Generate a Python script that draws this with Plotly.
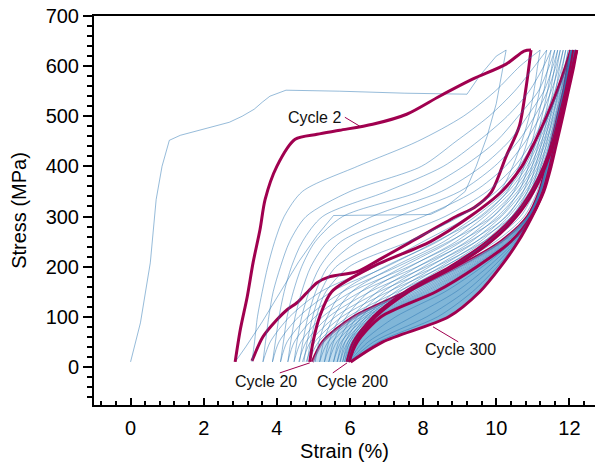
import plotly.graph_objects as go

levels = [10, 50, 100, 150, 200, 250, 300, 350, 400, 450, 500, 550, 600, 632]

# cycle 1 (first, odd-shaped loop)
c1_load_x = [0, 0.27, 0.54, 0.70, 0.86, 1.06, 1.36, 2.0, 2.7, 3.05, 3.38, 3.6, 3.81, 4.25, 5.72, 7.5, 9.2, 9.54, 10.0, 10.27]
c1_load_y = [10, 88, 208, 334, 400, 452, 462, 475, 488, 500, 514, 528, 540, 552, 550, 546, 544, 580, 620, 632]
c1_unload_x = [10.27, 10.16, 10.0, 9.75, 9.45, 9.15, 8.6, 8.2, 5.55, 5.1, 4.6, 4.1, 3.6, 3.15, 2.86]
c1_unload_y = [632, 590, 525, 460, 400, 350, 318, 304, 302, 262, 210, 150, 90, 40, 10]

# cycle 2 (highlighted)
c2_load_x = [2.86, 3.0, 3.19, 3.35, 3.54, 3.68, 4.0, 4.5, 5.1, 5.72, 6.62, 7.55, 8.45, 9.35, 10.27, 10.76, 10.95]
c2_load_y = [10, 74, 140, 208, 274, 334, 400, 454, 464, 472, 484, 504, 540, 574, 604, 630, 632]
c2_unload_x = [10.95, 10.82, 10.63, 10.27, 9.86, 9.4, 8.9, 7.63, 6.8, 6.19, 5.45, 5.1, 4.82, 4.55, 4.28, 4.0, 3.62, 3.32]
c2_unload_y = [632, 560, 480, 420, 348, 318, 300, 248, 214, 190, 180, 168, 148, 128, 114, 94, 60, 12]

# cycles 3-19 (thin), strain at each stress level
early_cycles = [3, 4, 5, 6, 7, 8, 10, 13, 16]
early_load = [
    [3.32, 3.39, 3.47, 3.60, 3.75, 3.94, 4.20, 4.70, 6.20, 7.85, 9.10, 9.97, 10.65, 11.20],
    [3.62, 3.69, 3.78, 3.90, 4.10, 4.35, 4.80, 6.00, 7.95, 8.90, 9.80, 10.50, 11.05, 11.38],
    [3.88, 3.96, 4.06, 4.20, 4.40, 4.70, 5.25, 7.00, 8.55, 9.50, 10.30, 10.90, 11.30, 11.50],
    [4.10, 4.18, 4.28, 4.45, 4.68, 5.05, 5.80, 7.90, 9.10, 10.00, 10.60, 11.15, 11.45, 11.60],
    [4.30, 4.38, 4.50, 4.68, 4.93, 5.40, 6.60, 8.50, 9.60, 10.35, 10.85, 11.30, 11.55, 11.68],
    [4.47, 4.55, 4.68, 4.88, 5.18, 5.75, 7.30, 9.00, 9.95, 10.60, 11.05, 11.40, 11.63, 11.75],
    [4.62, 4.71, 4.85, 5.06, 5.40, 6.20, 8.00, 9.40, 10.25, 10.80, 11.20, 11.50, 11.72, 11.83],
    [4.74, 4.83, 4.98, 5.20, 5.62, 6.90, 8.60, 9.75, 10.50, 10.98, 11.32, 11.60, 11.80, 11.90],
    [4.83, 4.92, 5.08, 5.34, 5.98, 7.60, 9.00, 10.00, 10.62, 11.05, 11.42, 11.68, 11.87, 11.97],
]
early_unload = [
    [3.62, 3.82, 4.35, 5.20, 6.70, 8.00, 9.25, 10.10, 10.45, 10.70, 10.90, 11.03, 11.13, 11.20],
    [3.88, 4.06, 4.60, 5.50, 7.00, 8.35, 9.60, 10.30, 10.62, 10.85, 11.04, 11.18, 11.30, 11.38],
    [4.10, 4.28, 4.85, 5.80, 7.30, 8.70, 9.90, 10.48, 10.76, 10.98, 11.15, 11.30, 11.42, 11.50],
    [4.30, 4.48, 5.05, 6.05, 7.60, 9.00, 10.10, 10.62, 10.88, 11.08, 11.25, 11.40, 11.52, 11.60],
    [4.47, 4.66, 5.25, 6.30, 7.85, 9.25, 10.28, 10.74, 10.98, 11.17, 11.33, 11.48, 11.60, 11.68],
    [4.60, 4.80, 5.42, 6.55, 8.10, 9.45, 10.42, 10.85, 11.07, 11.25, 11.41, 11.55, 11.67, 11.75],
    [4.70, 4.92, 5.60, 6.80, 8.35, 9.65, 10.55, 10.95, 11.15, 11.32, 11.48, 11.62, 11.74, 11.83],
    [4.80, 5.04, 5.78, 7.05, 8.55, 9.82, 10.66, 11.04, 11.22, 11.39, 11.55, 11.70, 11.82, 11.90],
    [4.87, 5.14, 5.95, 7.30, 8.75, 9.98, 10.76, 11.12, 11.30, 11.46, 11.62, 11.77, 11.89, 11.97],
]

# cycle 20 (highlighted)
c20_load = [4.90, 4.99, 5.17, 5.50, 6.62, 8.20, 9.28, 10.15, 10.70, 11.06, 11.38, 11.66, 11.90, 12.04]
c20_unload = [4.97, 5.25, 6.10, 7.55, 8.95, 10.12, 10.85, 11.18, 11.36, 11.52, 11.68, 11.84, 11.96, 12.04]

# cycles 21-199 (thin)
mid_cycles = [25, 30, 40, 50, 65, 80, 100, 125, 150, 175]
mid_load = [
    [5.05, 5.15, 5.38, 5.80, 6.95, 8.40, 9.43, 10.25, 10.78, 11.12, 11.42, 11.69, 11.92, 12.05],
    [5.17, 5.28, 5.55, 6.05, 7.20, 8.57, 9.55, 10.33, 10.84, 11.17, 11.46, 11.72, 11.94, 12.06],
    [5.30, 5.42, 5.74, 6.30, 7.45, 8.75, 9.68, 10.42, 10.91, 11.23, 11.50, 11.75, 11.96, 12.07],
    [5.42, 5.55, 5.90, 6.52, 7.65, 8.90, 9.80, 10.50, 10.97, 11.28, 11.54, 11.77, 11.97, 12.08],
    [5.55, 5.69, 6.07, 6.75, 7.86, 9.05, 9.92, 10.58, 11.03, 11.33, 11.58, 11.80, 11.98, 12.09],
    [5.65, 5.79, 6.20, 6.92, 8.02, 9.18, 10.03, 10.65, 11.08, 11.37, 11.61, 11.82, 11.99, 12.09],
    [5.73, 5.87, 6.32, 7.08, 8.18, 9.32, 10.14, 10.73, 11.14, 11.42, 11.64, 11.84, 12.00, 12.10],
    [5.80, 5.95, 6.44, 7.24, 8.34, 9.45, 10.25, 10.80, 11.19, 11.46, 11.67, 11.86, 12.01, 12.10],
    [5.85, 6.00, 6.52, 7.36, 8.48, 9.56, 10.34, 10.86, 11.23, 11.50, 11.70, 11.88, 12.02, 12.11],
    [5.89, 6.05, 6.60, 7.46, 8.60, 9.66, 10.42, 10.91, 11.27, 11.53, 11.72, 11.89, 12.03, 12.11],
]
mid_unload = [
    [5.17, 5.40, 6.20, 7.65, 9.02, 10.15, 10.86, 11.18, 11.37, 11.52, 11.68, 11.84, 11.97, 12.05],
    [5.30, 5.52, 6.30, 7.74, 9.08, 10.18, 10.87, 11.19, 11.38, 11.53, 11.69, 11.85, 11.98, 12.06],
    [5.42, 5.64, 6.40, 7.83, 9.14, 10.21, 10.88, 11.20, 11.39, 11.54, 11.70, 11.86, 11.99, 12.07],
    [5.55, 5.76, 6.48, 7.91, 9.20, 10.24, 10.89, 11.21, 11.40, 11.55, 11.71, 11.87, 12.00, 12.08],
    [5.65, 5.86, 6.56, 7.99, 9.26, 10.27, 10.90, 11.22, 11.41, 11.56, 11.72, 11.88, 12.01, 12.09],
    [5.73, 5.94, 6.62, 8.06, 9.31, 10.30, 10.90, 11.23, 11.42, 11.57, 11.73, 11.89, 12.02, 12.09],
    [5.80, 6.00, 6.68, 8.13, 9.35, 10.32, 10.91, 11.24, 11.43, 11.58, 11.74, 11.90, 12.03, 12.10],
    [5.85, 6.06, 6.73, 8.20, 9.39, 10.35, 10.92, 11.25, 11.44, 11.59, 11.75, 11.91, 12.04, 12.10],
    [5.89, 6.10, 6.77, 8.26, 9.42, 10.37, 10.92, 11.26, 11.45, 11.60, 11.76, 11.92, 12.05, 12.11],
    [5.92, 6.15, 6.81, 8.31, 9.45, 10.39, 10.93, 11.27, 11.46, 11.61, 11.77, 11.93, 12.06, 12.11],
]

# cycle 200 (highlighted)
c200_load = [5.92, 6.10, 6.64, 7.52, 8.75, 9.75, 10.48, 10.96, 11.30, 11.55, 11.73, 11.90, 12.04, 12.12]
c200_unload = [5.96, 6.20, 6.85, 8.35, 9.47, 10.40, 10.96, 11.28, 11.47, 11.62, 11.78, 11.94, 12.07, 12.12]

# cycles 201-299 (thin)
late_cycles = [215, 240, 265, 285]
late_load = [
    [5.94, 6.12, 6.66, 7.54, 8.78, 9.78, 10.50, 10.98, 11.31, 11.56, 11.74, 11.91, 12.06, 12.14],
    [5.95, 6.13, 6.67, 7.56, 8.80, 9.80, 10.52, 10.99, 11.32, 11.56, 11.74, 11.91, 12.07, 12.16],
    [5.96, 6.14, 6.68, 7.57, 8.82, 9.82, 10.53, 11.00, 11.33, 11.57, 11.75, 11.92, 12.08, 12.18],
    [5.97, 6.15, 6.69, 7.59, 8.84, 9.84, 10.54, 11.01, 11.33, 11.57, 11.75, 11.92, 12.08, 12.19],
]
late_unload = [
    [5.97, 6.35, 7.25, 8.60, 9.62, 10.45, 10.96, 11.28, 11.48, 11.63, 11.79, 11.95, 12.08, 12.14],
    [5.98, 6.50, 7.70, 8.90, 9.78, 10.50, 10.97, 11.29, 11.48, 11.64, 11.80, 11.95, 12.09, 12.16],
    [5.99, 6.65, 8.10, 9.15, 9.92, 10.54, 10.97, 11.29, 11.49, 11.65, 11.81, 11.96, 12.10, 12.18],
    [6.00, 6.78, 8.40, 9.35, 10.03, 10.57, 10.98, 11.30, 11.49, 11.65, 11.81, 11.96, 12.11, 12.19],
]

# cycle 300 (highlighted)
c300_load = [5.98, 6.16, 6.70, 7.60, 8.85, 9.85, 10.55, 11.02, 11.34, 11.58, 11.76, 11.93, 12.09, 12.20]
c300_unload = [6.02, 6.90, 8.70, 9.55, 10.12, 10.60, 10.98, 11.30, 11.50, 11.66, 11.82, 11.97, 12.12, 12.20]

CRIMSON = "#a0004f"
BLUE = "rgba(45,120,180,0.5)"
FILL = "rgb(128,182,216)"
FILL_MID = "rgba(150,196,226,0.6)"

fig = go.Figure()


def add_line(x, y, color, width, shape="spline"):
    fig.add_trace(go.Scatter(x=x, y=y, mode="lines", hoverinfo="skip",
                             line=dict(color=color, width=width, shape=shape, smoothing=0.8)))


def add_loop(load, unload, color, width):
    add_line(load, levels, color, width)
    add_line(unload[::-1], levels[::-1], color, width)


def add_band(left, right, color):
    fig.add_trace(go.Scatter(x=left + right[::-1], y=levels + levels[::-1],
                             mode="lines", fill="toself", fillcolor=color, hoverinfo="skip",
                             line=dict(width=0, shape="spline", smoothing=0.8)))


add_line(c1_load_x, c1_load_y, BLUE, 1, "linear")
add_line(c1_unload_x, c1_unload_y, BLUE, 1, "linear")
add_line(c2_load_x, c2_load_y, CRIMSON, 3)
add_line(c2_unload_x, c2_unload_y, CRIMSON, 3)

for ld, ul in zip(early_load, early_unload):
    add_loop(ld, ul, BLUE, 1)
add_loop(c20_load, c20_unload, CRIMSON, 3)

# cycles 21-199 pile up over the cycle-20 unloading branch
add_band(c20_unload, c200_unload, FILL_MID)
for ld, ul in zip(mid_load, mid_unload):
    add_loop(ld, ul, BLUE, 1)

# dense band of cycles 201-299 between the two unloading curves
add_band(c200_unload, c300_unload, FILL)
add_loop(c200_load, c200_unload, CRIMSON, 3)
for ld, ul in zip(late_load, late_unload):
    add_loop(ld, ul, BLUE, 1)
add_loop(c300_load, c300_unload, CRIMSON, 3)

# labels with leader lines
labels = [
    ("Cycle 2", 5.04, 498, 5.86, 498, 6.27, 480),
    ("Cycle 20", 3.70, -30, 4.08, -12, 4.90, 8),
    ("Cycle 200", 6.08, -30, 5.53, -12, 5.92, 8),
    ("Cycle 300", 9.01, 34, 8.96, 50, 8.27, 80),
]
for txt, tx, ty, x0, y0, x1, y1 in labels:
    fig.add_annotation(x=tx, y=ty, text=txt, showarrow=False,
                       font=dict(size=16, color="#111111"))
    fig.add_shape(type="line", x0=x0, y0=y0, x1=x1, y1=y1, xref="x", yref="y",
                  line=dict(color=CRIMSON, width=1))

fig.update_layout(
    width=595, height=464,
    margin=dict(l=94, r=0, t=16, b=59),
    plot_bgcolor="white", paper_bgcolor="white",
    showlegend=False,
    font=dict(family="Liberation Sans, Arial, sans-serif", color="black"),
)
fig.update_xaxes(
    automargin=False,
    range=[-1.0, 12.7], dtick=2, tick0=0,
    showline=True, linecolor="black", linewidth=2, mirror=True,
    ticks="inside", ticklen=7, tickwidth=1.5, tickcolor="black",
    minor=dict(ticks="inside", ticklen=4, dtick=0.4, tick0=0, tickcolor="black", tickwidth=1.5),
    showgrid=False, zeroline=False,
    tickfont=dict(size=20), ticklabelstandoff=4,
    title=dict(text="Strain (%)", font=dict(size=20), standoff=6),
)
fig.update_yaxes(
    automargin=False,
    range=[-76, 700], dtick=100, tick0=0,
    showline=True, linecolor="black", linewidth=2,
    ticks="outside", ticklen=9, tickwidth=1.5, tickcolor="black",
    minor=dict(ticks="outside", ticklen=5, dtick=20, tick0=0, tickcolor="black", tickwidth=1.5),
    showgrid=False, zeroline=False,
    tickfont=dict(size=20),
    title=dict(text="Stress (MPa)", font=dict(size=20), standoff=14),
)

# drop the browser's default 8px body margin so the figure sits at the page corner
fig.write_html("out.html", config={"displayModeBar": False},
               post_script="document.body.style.margin='0';")
